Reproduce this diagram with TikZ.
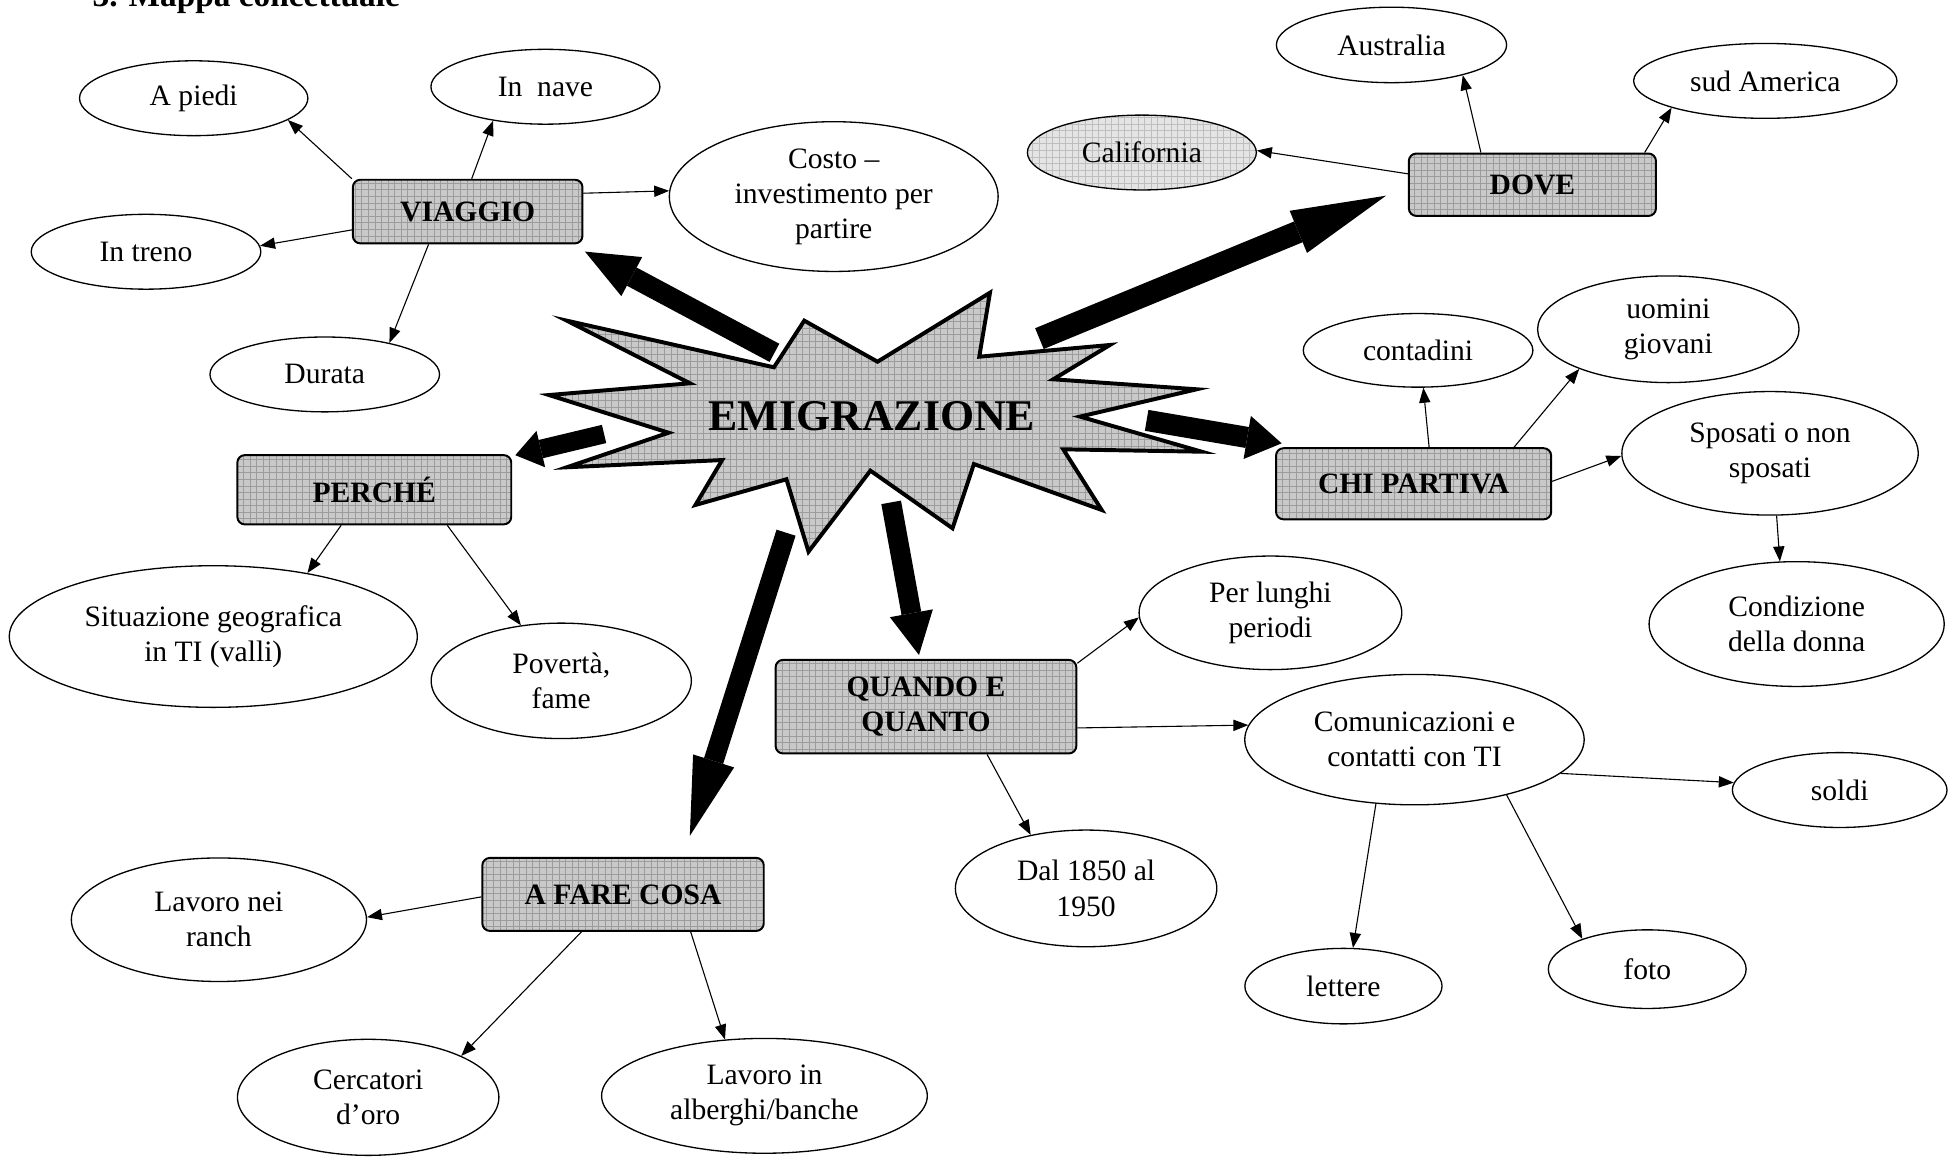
\documentclass[tikz,border=0pt]{standalone}
\usepackage{fontspec}
\setmainfont{Liberation Serif}
\usepackage{tikz}
\usetikzlibrary{arrows.meta,shapes.geometric,patterns}
\definecolor{MAPgray}{HTML}{C9C9C9}
\definecolor{MAPgrid}{HTML}{9C9C9C}
\definecolor{MAPlight}{HTML}{E4E4E4}
\definecolor{MAPlightgrid}{HTML}{BEBEBE}
\newcommand{\mapsize}{\fontsize{13.5}{16}\selectfont}
\tikzset{
  topicbox/.style={rectangle, rounded corners=0.12cm, draw=black, line width=0.9pt, preaction={fill=MAPgray}, pattern=grid, pattern color=MAPgrid, align=center, inner sep=0pt, font=\mapsize\bfseries},
  idea/.style={ellipse, draw=black, line width=0.6pt, fill=white, align=center, inner sep=0pt, font=\mapsize},
  lightidea/.style={idea, fill=none, preaction={fill=MAPlight}, pattern=grid, pattern color=MAPlightgrid},
  linkarr/.style={line width=0.5pt, -{Triangle[length=0.24cm, width=0.18cm]}},
  bigarr/.style n args={3}{line width=#1, -{Triangle[width=#2, length=#3, line width=0pt]}},
  burst/.style={draw=black, line width=1.8pt, miter limit=20, preaction={fill=MAPgray}, pattern=grid, pattern color=MAPgrid}
}
\begin{document}
\begin{tikzpicture}[x=0.02cm, y=-0.02cm]
\useasboundingbox (0,0) rectangle (1568,927);
\node[anchor=base west, font=\fontsize{15.2}{18}\selectfont\bfseries] (title) at (68,5) {3. Mappa concettuale};

\draw[burst] (439.8,316.5) -- (552.8,307.1) -- (454.1,256.9) -- (620.1,294.3) -- (644.4,256.9) -- (703.1,289.8) -- (793.2,234.5) -- (784.6,285.8) -- (889.3,276.4) -- (843.9,303.9) -- (958.8,311.9) -- (865.3,333.8) -- (962.8,361.9) -- (851.9,360.0) -- (882.7,408.6) -- (780.3,371.8) -- (763.2,423.3) -- (697.4,377.1) -- (647.8,442.0) -- (630.1,384.0) -- (557.2,404.6) -- (578.6,368.6) -- (454.1,374.4) -- (535.7,346.7) -- cycle;
\node[font=\fontsize{20}{24}\selectfont\bfseries] (emig) at (698.6,333.3) {EMIGRAZIONE};

\node[topicbox, minimum width=3.68cm, minimum height=1.02cm] (viaggio) at (374.7,169.5) {VIAGGIO};
\node[topicbox, minimum width=3.96cm, minimum height=1.0cm] (dove) at (1227.8,148) {DOVE};
\node[topicbox, minimum width=4.41cm, minimum height=1.14cm] (chipartiva) at (1132.6,387.6) {CHI PARTIVA};
\node[topicbox, minimum width=4.39cm, minimum height=1.11cm] (perche) at (299.9,392.4) {PERCHÉ};
\node[topicbox, minimum width=4.82cm, minimum height=1.5cm] (quando) at (741.9,566.2) {QUANDO E\\QUANTO};
\node[topicbox, minimum width=4.51cm, minimum height=1.17cm] (afare) at (499.2,716.6) {A FARE COSA};

\node[idea, minimum width=3.66cm, minimum height=1.2cm] (apiedi) at (155.2,78.7) {A piedi};
\node[idea, minimum width=3.67cm, minimum height=1.2cm] (innave) at (437,69.5) {In\ \ nave};
\node[idea, minimum width=3.68cm, minimum height=1.2cm] (intreno) at (117,201.7) {In treno};
\node[idea, minimum width=3.68cm, minimum height=1.2cm] (durata) at (260.2,300) {Durata};
\node[idea, minimum width=5.27cm, minimum height=2.4cm] (costo) at (668,157.5) {Costo –\\investimento per\\partire};
\node[idea, minimum width=3.69cm, minimum height=1.21cm] (australia) at (1114.9,36) {Australia};
\node[idea, minimum width=4.22cm, minimum height=1.2cm] (sudamerica) at (1414.4,64.8) {sud America};
\node[lightidea, minimum width=3.67cm, minimum height=1.2cm] (california) at (914.9,122.2) {California};
\node[idea, minimum width=3.68cm, minimum height=1.18cm] (contadini) at (1136.2,280.7) {contadini};
\node[idea, minimum width=4.19cm, minimum height=1.71cm] (uomini) at (1336.7,263.8) {uomini\\giovani};
\node[idea, minimum width=4.75cm, minimum height=1.98cm] (sposati) at (1418.2,363.2) {Sposati o non\\sposati};
\node[idea, minimum width=4.73cm, minimum height=2.0cm] (condizione) at (1439.5,500) {Condizione\\della donna};
\node[idea, minimum width=6.54cm, minimum height=2.27cm] (situazione) at (170.9,510) {Situazione geografica\\in TI (valli)};
\node[idea, minimum width=4.17cm, minimum height=1.85cm] (poverta) at (449.7,545.5) {Povertà,\\fame};
\node[idea, minimum width=4.21cm, minimum height=1.82cm] (perlunghi) at (1017.9,491) {Per lunghi\\periodi};
\node[idea, minimum width=5.44cm, minimum height=2.09cm] (comunicazioni) at (1133.3,592.6) {Comunicazioni e\\contatti con TI};
\node[idea, minimum width=4.19cm, minimum height=1.87cm] (dal) at (870.2,711.8) {Dal 1850 al\\1950};
\node[idea, minimum width=3.44cm, minimum height=1.2cm] (soldi) at (1474,633) {soldi};
\node[idea, minimum width=3.16cm, minimum height=1.21cm] (lettere) at (1076.4,790.1) {lettere};
\node[idea, minimum width=3.17cm, minimum height=1.26cm] (foto) at (1319.8,776.5) {foto};
\node[idea, minimum width=4.73cm, minimum height=1.98cm] (ranch) at (175.4,736.9) {Lavoro nei\\ranch};
\node[idea, minimum width=4.19cm, minimum height=1.86cm] (cercatori) at (295,879.2) {Cercatori\\d’oro};
\node[idea, minimum width=5.22cm, minimum height=1.84cm] (alberghi) at (612.5,878) {Lavoro in\\alberghi/banche};

\coordinate (viaggio-from) at (620.5,282.7);
\coordinate (viaggio-to) at (468.7,201.6);
\coordinate (dove-from) at (832.8,271.3);
\coordinate (dove-to) at (1110.5,156.8);
\coordinate (chi-from) at (918.7,336.8);
\coordinate (chi-to) at (1026.9,355.2);
\coordinate (perche-from) at (484,347.7);
\coordinate (perche-to) at (412.9,364.7);
\coordinate (quando-from) at (714,402.5);
\coordinate (quando-to) at (736.3,524.8);
\coordinate (afare-from) at (629.8,426.8);
\coordinate (afare-to) at (552.7,669.7);
\draw[bigarr={0.33cm}{0.71cm}{0.85cm}] (viaggio-from) -- (viaggio-to);
\draw[bigarr={0.36cm}{0.73cm}{1.52cm}] (dove-from) -- (dove-to);
\draw[bigarr={0.34cm}{0.70cm}{0.56cm}] (chi-from) -- (chi-to);
\draw[bigarr={0.30cm}{0.60cm}{0.42cm}] (perche-from) -- (perche-to);
\draw[bigarr={0.32cm}{0.70cm}{0.68cm}] (quando-from) -- (quando-to);
\draw[bigarr={0.32cm}{0.69cm}{1.26cm}] (afare-from) -- (afare-to);

\draw[linkarr] (viaggio.north west) -- (apiedi.347.3);
\draw[linkarr] (viaggio.83.6) -- (innave.213.1);
\draw[linkarr] (viaggio.189.5) -- (intreno.3.3);
\draw[linkarr] (viaggio.220.8) -- (durata.26);
\draw[linkarr] (viaggio.9.5) -- (costo.178.5);
\draw[linkarr] (dove.175.8) -- (california.1);
\draw[linkarr] (dove.148.1) -- (australia.337.6);
\draw[linkarr] (dove.16.8) -- (sudamerica.196.8);
\draw[linkarr] (chipartiva.67.8) -- (contadini.278.3);
\draw[linkarr] (chipartiva.20.6) -- (uomini.204.2);
\draw[linkarr] (chipartiva.1.6) -- (sposati.181.9);
\draw[linkarr] (sposati.276.8) -- (condizione.105.1);
\draw[linkarr] (perche.227.1) -- (situazione.34.2);
\draw[linkarr] (perche.334) -- (poverta.126.4);
\draw[linkarr] (quando.16.5) -- (perlunghi.182.8);
\draw[linkarr] (quando.352.5) -- (comunicazioni.175.6);
\draw[linkarr] (quando.322.6) -- (dal.136.1);
\draw[linkarr] (comunicazioni.347.3) -- (soldi.176.4);
\draw[linkarr] (comunicazioni.239.3) -- (lettere.76.8);
\draw[linkarr] (comunicazioni.329.5) -- (foto.155.4);
\draw[linkarr] (afare.181.6) -- (ranch.1.5);
\draw[linkarr] (afare.222.4) -- (cercatori.24.3);
\draw[linkarr] (afare.331.4) -- (alberghi.125.5);
\end{tikzpicture}
\end{document}
